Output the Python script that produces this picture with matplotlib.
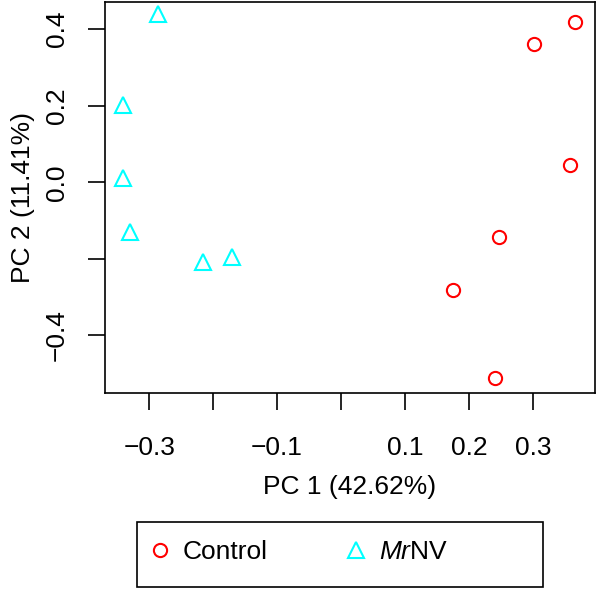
import matplotlib
matplotlib.use("Agg")
import matplotlib.pyplot as plt
from matplotlib.patches import Rectangle

# PCA scores
control_pc1 = [0.366, 0.302, 0.358, 0.247, 0.175, 0.241]
control_pc2 = [0.418, 0.361, 0.044, -0.143, -0.280, -0.511]
mrnv_pc1 = [-0.286, -0.341, -0.341, -0.330, -0.216, -0.170]
mrnv_pc2 = [0.438, 0.203, 0.012, -0.131, -0.207, -0.194]

xticks = [-0.3, -0.2, -0.1, 0.0, 0.1, 0.2, 0.3]
xtick_labels = ["\u22120.3", "", "\u22120.1", "", "0.1", "0.2", "0.3"]
yticks = [-0.4, -0.2, 0.0, 0.2, 0.4]
ytick_labels = ["\u22120.4", "", "0.0", "0.2", "0.4"]

plt.rcParams["font.family"] = ["Liberation Sans", "DejaVu Sans"]
plt.rcParams["mathtext.fontset"] = "custom"
plt.rcParams["mathtext.rm"] = "Liberation Sans"
plt.rcParams["mathtext.it"] = "Liberation Sans:italic"

fs = 19

fig = plt.figure(figsize=(5.97, 5.90), dpi=100)
ax = fig.add_axes([0.176, 0.334, 0.8206, 0.6626])

ctrl, = ax.plot(control_pc1, control_pc2, linestyle="none", marker="o",
                markersize=9.5, markerfacecolor="none", markeredgecolor="red",
                markeredgewidth=1.5, label="Control")
mrnv, = ax.plot(mrnv_pc1, mrnv_pc2, linestyle="none", marker="^",
                markersize=12, markerfacecolor="none", markeredgecolor="cyan",
                markeredgewidth=1.5, label=r"$\it{Mr}$NV")

ax.set_xlim(-0.369, 0.397)
ax.set_ylim(-0.550, 0.4706)
ax.set_xticks(xticks)
ax.set_xticklabels(xtick_labels)
ax.set_yticks(yticks)
ax.set_yticklabels(ytick_labels, rotation=90, va="center")
ax.tick_params(axis="both", direction="out", length=12, width=1.2,
               labelsize=fs, color="black")
ax.tick_params(axis="x", pad=19)
ax.tick_params(axis="y", pad=14)
for s in ax.spines.values():
    s.set_linewidth(1.2)

ax.set_xlabel("PC 1 (42.62%)", fontsize=fs, labelpad=11)
ax.set_ylabel("PC 2 (11.41%)", fontsize=fs, labelpad=7)

# legend box below the plot, as in the R figure
fig.add_artist(Rectangle((0.229, 0.005), 0.68, 0.11, transform=fig.transFigure,
                         facecolor="none", edgecolor="black", linewidth=1.2))
leg = fig.legend(handles=[ctrl, mrnv], loc="center left",
                 bbox_to_anchor=(0.2459, 0.0644), ncol=2, fontsize=fs,
                 frameon=False, borderpad=0, borderaxespad=0,
                 handletextpad=0.37, handlelength=1.0, columnspacing=2.83)

fig.savefig("out.png", dpi=100)
